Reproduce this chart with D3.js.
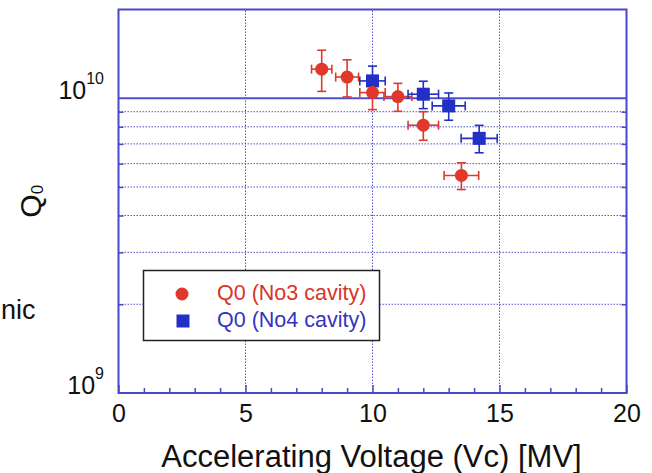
<!DOCTYPE html>
<html>
<head>
<meta charset="utf-8">
<script src="https://cdn.jsdelivr.net/npm/d3@7"></script>
<style>
  body { margin: 0; background: #fff; }
  svg text { font-family: "Liberation Sans", Arial, sans-serif; }
</style>
</head>
<body>
<div id="chart"></div>
<script>
// No3 cavity (red circles)
var no3Vc = [8, 9, 10, 11, 12, 13.5]
var no3VcErr = [0.4, 0.45, 0.5, 0.55, 0.6, 0.68]
var no3Q = [1.255e10, 1.18e10, 1.045e10, 1.013e10, 8.1e9, 5.47e9]
var no3QErr = [0.2e10, 0.17e10, 0.13e10, 0.11e10, 0.9e9, 0.57e9]

// No4 cavity (blue squares)
var no4Vc = [10, 12, 13, 14.2]
var no4VcErr = [0.5, 0.6, 0.65, 0.71]
var no4Q = [1.145e10, 1.032e10, 9.42e9, 7.31e9]
var no4QErr = [0.14e10, 0.11e10, 0.1e10, 0.78e9]

var xTicks = [0, 5, 10, 15, 20]
var xMinor = [1, 2, 3, 4, 6, 7, 8, 9, 11, 12, 13, 14, 16, 17, 18, 19]
var yMajor = [1e9, 1e10]
var yMajorExp = ["9", "10"]
var yMinor = [2e9, 3e9, 4e9, 5e9, 6e9, 7e9, 8e9, 9e9]

var legendLabels = ["Q0 (No3 cavity)", "Q0 (No4 cavity)"]

var red = "#e0382a", blue = "#2230c8", axisCol = "#4848c8", gridCol = "#5252d0"

var width = 652, height = 473
var svg = d3.select("#chart").append("svg")
  .attr("width", width).attr("height", height)

var x = d3.scaleLinear().domain([0, 20]).range([118.5, 626.5])
var y = d3.scaleLog().domain([1e9, 2e10]).range([393, 9.5])

// grid
svg.append("g").selectAll("line").data(yMinor).enter().append("line")
  .attr("x1", x(0)).attr("x2", x(20))
  .attr("y1", d => y(d)).attr("y2", d => y(d))
  .attr("stroke", gridCol).attr("stroke-width", 1).attr("stroke-dasharray", "1.5,1.5")
svg.append("g").selectAll("line").data(xTicks.slice(1)).enter().append("line")
  .attr("x1", d => x(d)).attr("x2", d => x(d))
  .attr("y1", y(1e9)).attr("y2", y(2e10))
  .attr("stroke", gridCol).attr("stroke-width", 1).attr("stroke-dasharray", "1.5,1.5")
svg.append("line")
  .attr("x1", x(0)).attr("x2", x(20))
  .attr("y1", y(1e10)).attr("y2", y(1e10))
  .attr("stroke", "#5050cc").attr("stroke-width", 2)

// frame
svg.append("rect")
  .attr("x", x(0)).attr("y", y(2e10))
  .attr("width", x(20) - x(0)).attr("height", y(1e9) - y(2e10))
  .attr("fill", "none").attr("stroke", axisCol).attr("stroke-width", 2)

// x axis (ticks inward)
var xAxis = svg.append("g").attr("transform", "translate(0," + y(1e9) + ")")
  .call(d3.axisBottom(x).tickValues(xTicks).tickSize(-8).tickPadding(11).tickFormat(d3.format("d")))
svg.append("g").attr("transform", "translate(0," + y(1e9) + ")")
  .call(d3.axisBottom(x).tickValues(xMinor).tickSize(-5).tickFormat(""))
  .call(g => g.select(".domain").remove())
xAxis.select(".domain").remove()
svg.selectAll(".tick line").attr("stroke", axisCol).attr("stroke-width", 1.5)
xAxis.selectAll("text").attr("font-size", 25).attr("fill", "#111")

// y axis ticks, left and right
svg.append("g").attr("transform", "translate(" + x(0) + ",0)")
  .call(d3.axisLeft(y).tickValues(yMinor).tickSize(-5).tickFormat(""))
  .call(g => g.select(".domain").remove())
  .selectAll("line").attr("stroke", axisCol).attr("stroke-width", 1.5)
svg.append("g").attr("transform", "translate(" + x(20) + ",0)")
  .call(d3.axisRight(y).tickValues(yMinor).tickSize(-5).tickFormat(""))
  .call(g => g.select(".domain").remove())
  .selectAll("line").attr("stroke", axisCol).attr("stroke-width", 1.5)

// y labels 10^n
var yl = svg.append("g").selectAll("text").data(yMajor).enter().append("text")
  .attr("x", 104).attr("y", d => y(d) + 1)
  .attr("text-anchor", "end").attr("fill", "#111")
yl.append("tspan").attr("font-size", 25).text("10")
yl.append("tspan").attr("font-size", 16).attr("dy", -15).text((d, i) => yMajorExp[i])

// axis titles
svg.append("text")
  .attr("x", (x(0) + x(20)) / 2 - 1).attr("y", 467)
  .attr("text-anchor", "middle").attr("font-size", 31).attr("fill", "#111")
  .text("Accelerating Voltage (Vc) [MV]")

var yt = svg.append("text")
  .attr("transform", "translate(41," + ((y(1e9) + y(2e10)) / 2) + ") rotate(-90)")
  .attr("text-anchor", "middle").attr("fill", "#111")
yt.append("tspan").attr("font-size", 30).text("Q")
yt.append("tspan").attr("font-size", 17).attr("dy", 2).text("0")

// stray slide text at the left edge
svg.append("text")
  .attr("x", 1).attr("y", 319)
  .attr("font-family", "'Open Sans', sans-serif").attr("font-size", 27).attr("fill", "#111")
  .text("nic")

function errorBars(vc, vcErr, q, qErr, col) {
  var g = svg.append("g").attr("stroke", col).attr("stroke-width", 1.6)
  var cap = 4.5
  vc.forEach(function(v, i) {
    var cx = x(v), cy = y(q[i])
    var yTop = y(q[i] + qErr[i]), yBot = y(q[i] - qErr[i])
    var xL = x(v - vcErr[i]), xR = x(v + vcErr[i])
    g.append("line").attr("x1", cx).attr("x2", cx).attr("y1", yTop).attr("y2", yBot)
    g.append("line").attr("x1", cx - cap).attr("x2", cx + cap).attr("y1", yTop).attr("y2", yTop)
    g.append("line").attr("x1", cx - cap).attr("x2", cx + cap).attr("y1", yBot).attr("y2", yBot)
    g.append("line").attr("x1", xL).attr("x2", xR).attr("y1", cy).attr("y2", cy)
    g.append("line").attr("x1", xL).attr("x2", xL).attr("y1", cy - cap).attr("y2", cy + cap)
    g.append("line").attr("x1", xR).attr("x2", xR).attr("y1", cy - cap).attr("y2", cy + cap)
  })
}

errorBars(no3Vc, no3VcErr, no3Q, no3QErr, red)
errorBars(no4Vc, no4VcErr, no4Q, no4QErr, blue)

svg.append("g").selectAll("rect").data(no4Vc).enter().append("rect")
  .attr("x", d => x(d) - 6.5).attr("y", (d, i) => y(no4Q[i]) - 6.5)
  .attr("width", 13).attr("height", 13).attr("fill", blue)

svg.append("g").selectAll("circle").data(no3Vc).enter().append("circle")
  .attr("cx", d => x(d)).attr("cy", (d, i) => y(no3Q[i]))
  .attr("r", 6.5).attr("fill", red)

// legend
var lg = svg.append("g")
lg.append("rect").attr("x", 143.5).attr("y", 270.5).attr("width", 236).attr("height", 70)
  .attr("fill", "#fff").attr("stroke", "#222").attr("stroke-width", 1.5)
lg.append("circle").attr("cx", 182).attr("cy", 294).attr("r", 6.5).attr("fill", red)
lg.append("rect").attr("x", 176.5).attr("y", 314.5).attr("width", 13).attr("height", 13).attr("fill", blue)
lg.selectAll("text").data(legendLabels).enter().append("text")
  .attr("x", 217).attr("y", (d, i) => 300 + i * 27)
  .attr("font-size", 21.5)
  .attr("fill", (d, i) => i === 0 ? "#d8352a" : "#3434c0")
  .text(d => d)
</script>
</body>
</html>
